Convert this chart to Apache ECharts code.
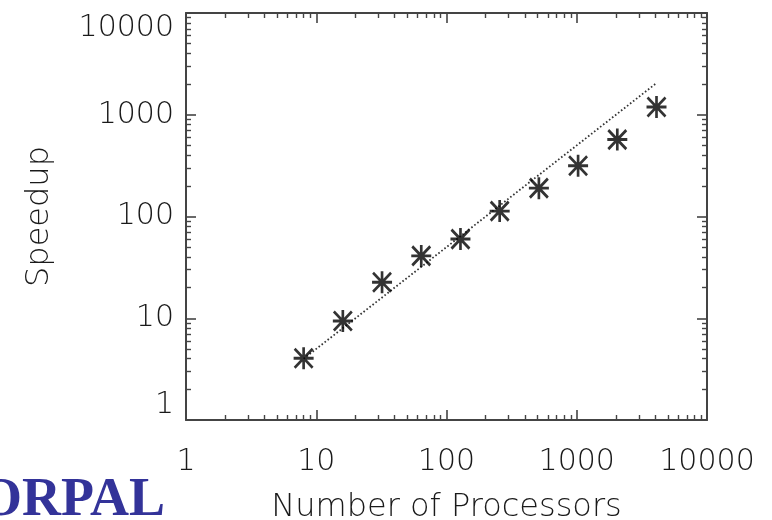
<!DOCTYPE html>
<html>
<head>
<meta charset="utf-8">
<title>Speedup vs Number of Processors</title>
<script src="https://cdn.jsdelivr.net/npm/echarts@6/dist/echarts.min.js"></script>
<style>
  html, body { margin: 0; padding: 0; background: #fff; }
  #chart { width: 772px; height: 520px; }
</style>
</head>
<body>
<div id="chart"></div>
<script>
// Measured speedup per processor count
const processors = [8, 16, 32, 64, 128, 256, 512, 1024, 2048, 4096];
const speedup = [4.05, 9.4, 22.6, 41, 60, 113, 190, 315, 570, 1190];

// Reference (ideal) scaling line
const idealProcs = [8, 4096];
const idealSpeedup = [4, 2048];

// Decade ticks and their labels
const majorTicks = [1, 10, 100, 1000, 10000];
const tickLabels = ['1', '10', '100', '1000', '10000'];

// Minor ticks at 2..9 within each decade
const minorTicks = [];
for (let d = 1; d < 10000; d *= 10) {
  for (let k = 2; k <= 9; k++) minorTicks.push(k * d);
}

const AXIS_COLOR = '#444';
const TEXT_COLOR = '#1a1a1a';
const FONT = '"DejaVu Sans", sans-serif';

function logAxis(opts) {
  return Object.assign({
    type: 'log',
    logBase: 10,
    min: 1,
    max: 10000,
    gridIndex: 0,
    splitLine: { show: false },
    axisLine: { show: false, onZero: false },
    axisLabel: { show: false },
    axisTick: { show: false }
  }, opts);
}

function majorAxis(position, withLabels, extra) {
  const vertical = position === 'left' || position === 'right';
  return logAxis(Object.assign({
    position: position,
    axisLine: { show: true, onZero: false, lineStyle: { color: AXIS_COLOR, width: 2 } },
    axisTick: {
      show: true, inside: true, length: 10,
      customValues: majorTicks,
      lineStyle: { color: AXIS_COLOR, width: 1.6 }
    },
    axisLabel: withLabels ? Object.assign({
      show: true,
      customValues: majorTicks,
      formatter: v => tickLabels[majorTicks.indexOf(v)] ?? String(v),
      color: TEXT_COLOR,
      fontFamily: FONT,
      fontWeight: 200,
      fontSize: 30,
      margin: vertical ? 12 : 27
    }, vertical ? { verticalAlignMinLabel: 'bottom', verticalAlignMaxLabel: 'top' } : {}) : { show: false }
  }, extra || {}));
}

function minorAxis(position) {
  return logAxis({
    position: position,
    axisTick: {
      show: true, inside: true, length: 5,
      customValues: minorTicks,
      lineStyle: { color: AXIS_COLOR, width: 1.4 }
    }
  });
}

const titleStyle = { color: TEXT_COLOR, fontFamily: FONT, fontWeight: 200, fontSize: 32 };

const chart = echarts.init(document.getElementById('chart'), null, { renderer: 'canvas' });

chart.setOption({
  backgroundColor: '#ffffff',
  animation: false,
  grid: {
    left: 186, top: 13, right: 65, bottom: 100,
    containLabel: false,
    outerBoundsMode: 'none'
  },
  xAxis: [
    majorAxis('bottom', true, {
      name: 'Number of Processors',
      nameLocation: 'middle',
      nameGap: 72,
      nameTextStyle: titleStyle
    }),
    minorAxis('bottom'),
    majorAxis('top', false),
    minorAxis('top')
  ],
  yAxis: [
    majorAxis('left', true, {
      name: 'Speedup',
      nameLocation: 'middle',
      nameGap: 130,
      nameRotate: 90,
      nameTextStyle: titleStyle
    }),
    minorAxis('left'),
    majorAxis('right', false),
    minorAxis('right')
  ],
  graphic: [{
    type: 'text',
    left: -20,
    top: 474,
    silent: true,
    style: {
      text: 'ORPAL',
      fill: '#333399',
      font: 'bold 54px "Liberation Serif", "Times New Roman", serif'
    }
  }],
  series: [
    {
      type: 'line',
      xAxisIndex: 0,
      yAxisIndex: 0,
      data: idealProcs.map((p, i) => [p, idealSpeedup[i]]),
      symbol: 'none',
      lineStyle: { color: '#333', width: 1.8, type: [1.6, 2.2] },
      silent: true,
      z: 2
    },
    {
      type: 'scatter',
      xAxisIndex: 0,
      yAxisIndex: 0,
      data: processors.map((p, i) => [p, speedup[i]]),
      symbol: 'path://M10,0 L10,22 M0,11 L20,11 M1,1.5 L19,20.5 M1,20.5 L19,1.5',
      symbolSize: [20, 22],
      itemStyle: { color: 'none', borderColor: '#000', borderWidth: 2.8 },
      silent: true,
      z: 3
    }
  ]
});
</script>
</body>
</html>
